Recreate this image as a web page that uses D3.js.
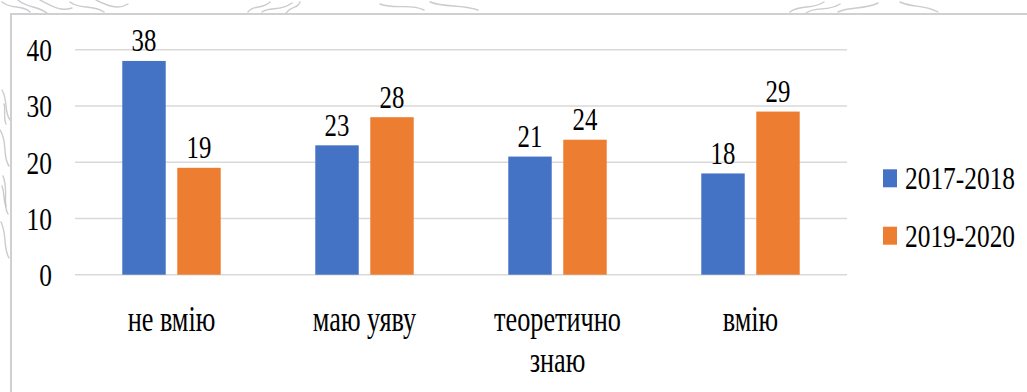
<!DOCTYPE html>
<html>
<head>
<meta charset="utf-8">
<script src="https://cdn.jsdelivr.net/npm/d3@7"></script>
<style>
  html, body { margin: 0; padding: 0; background: #ffffff; }
  svg { display: block; }
</style>
</head>
<body>
<svg id="chart" width="1027" height="392"></svg>
<script>
// Chart data
const categories = [["не вмію"], ["маю уяву"], ["теоретично", "знаю"], ["вмію"]];
const seriesNames = ["2017-2018", "2019-2020"];
const values2017 = [38, 23, 21, 18];
const values2019 = [19, 28, 24, 29];
const yTicks = [0, 10, 20, 30, 40];
const colors = ["#4472C4", "#ED7D31"];

const svg = d3.select("#chart");
const W = 1027, H = 392;
const FONT = "'Liberation Serif', 'Times New Roman', Tinos, 'DejaVu Serif', serif";

// faint ornamental sketch behind the frame
const ornament = [
  "M2,2 C12,10 22,4 30,12 M18,0 C26,8 40,6 48,14 M40,0 C52,6 60,12 72,8 M70,2 C80,10 92,4 104,12 M96,0 C108,6 118,10 128,4",
  "M248,12 C254,4 262,10 270,2 M262,12 C270,6 280,12 292,3 M286,13 C292,5 298,9 300,2",
  "M380,4 C396,10 410,3 424,10 M430,2 C446,8 460,4 478,10",
  "M790,12 C800,4 812,10 824,2 M806,13 C816,6 828,12 840,4 M838,12 C850,6 864,10 878,3 M900,2 C912,8 924,4 938,12",
  "M2,90 C8,100 4,112 10,120 M0,130 C8,142 2,156 9,166 M3,176 C9,190 2,204 8,214 M1,222 C7,234 3,248 9,258",
  "M4,104 C6,110 3,118 6,124 M2,186 C5,194 3,200 6,206"
];
svg.append("g")
  .selectAll("path")
  .data(ornament)
  .join("path")
  .attr("d", d => d)
  .attr("fill", "none")
  .attr("stroke", "#b9b9c0")
  .attr("stroke-width", 1.4)
  .attr("stroke-linecap", "round")
  .attr("opacity", 0.75);

// chart frame (top and left edges visible)
svg.append("rect")
  .attr("x", 11).attr("y", 14)
  .attr("width", W).attr("height", H)
  .attr("fill", "#ffffff")
  .attr("stroke", "#d0d0d0")
  .attr("stroke-width", 2);

// scales
const x0 = d3.scaleBand()
  .domain(d3.range(categories.length))
  .range([75, 847])
  .paddingInner(0.49)
  .paddingOuter(0.245);
const x1 = d3.scaleBand()
  .domain(d3.range(seriesNames.length))
  .range([0, x0.bandwidth()])
  .paddingInner(0.21);
const y = d3.scaleLinear().domain([0, 40]).range([274.7, 49.7]);

// helper for horizontally condensed serif text
function condensedText(sel, tx, ty, str, size, anchor, sx) {
  return sel.append("text")
    .attr("transform", `translate(${tx},${ty}) scale(${sx},1)`)
    .attr("text-anchor", anchor)
    .attr("font-family", FONT)
    .attr("font-size", size)
    .attr("fill", "#000")
    .text(str);
}

// gridlines
svg.append("g")
  .selectAll("line")
  .data(yTicks)
  .join("line")
  .attr("x1", 75).attr("x2", 847)
  .attr("y1", d => y(d)).attr("y2", d => y(d))
  .attr("stroke", "#d9d9d9")
  .attr("stroke-width", 1.5);

// y tick labels
const yAxisG = svg.append("g");
yTicks.forEach(t => condensedText(yAxisG, 52, y(t) + 11.5, String(t), 31, "end", 0.82));

// bars
const series = [values2017, values2019];
const barsG = svg.append("g");
series.forEach((vals, si) => {
  barsG.selectAll(null)
    .data(vals)
    .join("rect")
    .attr("x", (d, i) => x0(i) + x1(si))
    .attr("y", d => y(d))
    .attr("width", x1.bandwidth())
    .attr("height", d => y(0) - y(d))
    .attr("fill", colors[si]);
});

// value labels
const labelsG = svg.append("g");
series.forEach((vals, si) => {
  vals.forEach((v, i) => {
    condensedText(labelsG, x0(i) + x1(si) + x1.bandwidth() / 2, y(v) - 9.5, String(v), 31, "middle", 0.8);
  });
});

// category labels
const catG = svg.append("g");
categories.forEach((lines, i) => {
  const cx = x0(i) + x0.bandwidth() / 2;
  lines.forEach((ln, li) => condensedText(catG, cx, 330.5 + li * 41, ln, 35, "middle", 0.75));
});

// legend
const legendG = svg.append("g");
seriesNames.forEach((name, i) => {
  const ly = 189.3 + i * 57.4;
  legendG.append("rect")
    .attr("x", 883).attr("y", ly - 20)
    .attr("width", 14).attr("height", 18)
    .attr("fill", colors[i]);
  condensedText(legendG, 905, ly, name, 31, "start", 0.82);
});
</script>
</body>
</html>
